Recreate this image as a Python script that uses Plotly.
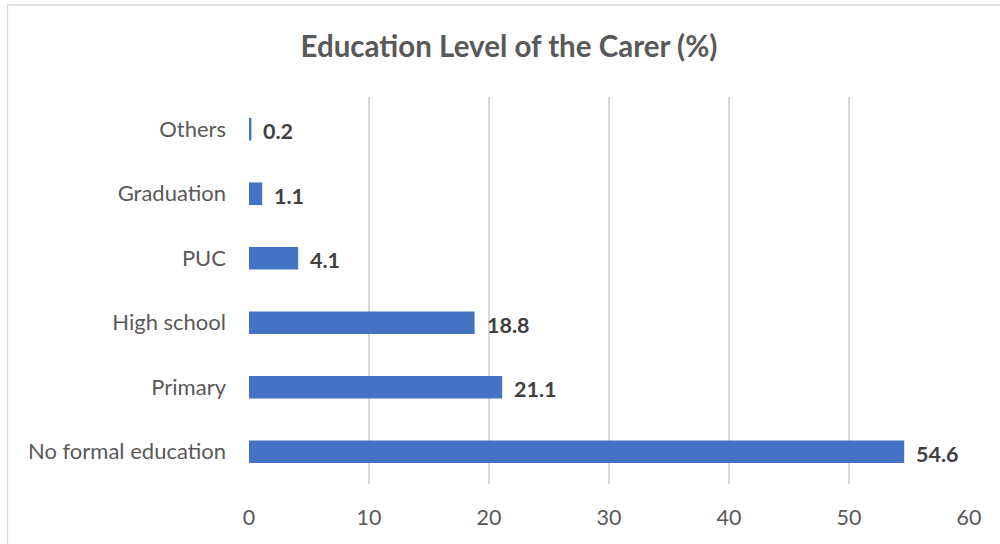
import plotly.graph_objects as go

# Education level of the carer, share of respondents (%)
categories = ["No formal education", "Primary", "High school", "PUC", "Graduation", "Others"]
values = [54.6, 21.1, 18.8, 4.1, 1.1, 0.2]
x_ticks = [0, 10, 20, 30, 40, 50, 60]

W, H = 1000, 544
L, R, T, B = 249, 31, 97, 60
pw, ph = W - L - R, H - T - B


def px_x(p):
    return (p - L) / pw


def px_y(p):
    return (H - B - p) / ph


fig = go.Figure(
    go.Bar(
        x=values,
        y=categories,
        orientation="h",
        marker=dict(color="#4472C4", line=dict(width=0)),
        width=0.35,
        hoverinfo="x+y",
    )
)

for cat, val in zip(categories, values):
    fig.add_annotation(
        x=val, y=cat, text=f"<b>{val}</b>", showarrow=False,
        xanchor="left", xshift=10, yshift=-2,
        font=dict(family="Lato", size=21.5, color="#404040"),
    )

# outer chart frame
fig.add_shape(
    type="rect", xref="paper", yref="paper",
    x0=px_x(7.5), x1=px_x(1010), y0=px_y(560), y1=px_y(5),
    line=dict(color="#d9d9d9", width=1.3), fillcolor="rgba(0,0,0,0)",
    layer="below",
)

fig.update_layout(
    width=W, height=H,
    margin=dict(l=L, r=R, t=T, b=B),
    paper_bgcolor="white", plot_bgcolor="white",
    title=dict(
        text="<b>Education Level of the Carer (%)</b>",
        x=509 / W, xanchor="center",
        y=1 - 47 / H, yanchor="middle",
        font=dict(family="Lato", size=29.5, color="#595959"),
    ),
    xaxis=dict(
        range=[0, 60], tickvals=x_ticks, showgrid=True,
        gridcolor="#d9d9d9", gridwidth=1.5, zeroline=False,
        showline=False, ticks="", ticklabelstandoff=18,
        tickfont=dict(family="Lato", size=21.5, color="#595959"),
        fixedrange=True,
    ),
    yaxis=dict(
        categoryorder="array", categoryarray=categories,
        showgrid=False, zeroline=False, showline=False, ticks="",
        ticklabelstandoff=22,
        tickfont=dict(family="Lato", size=22, color="#595959"),
        fixedrange=True,
    ),
    showlegend=False,
    bargap=0.65,
)

fig.write_html("out.html")
